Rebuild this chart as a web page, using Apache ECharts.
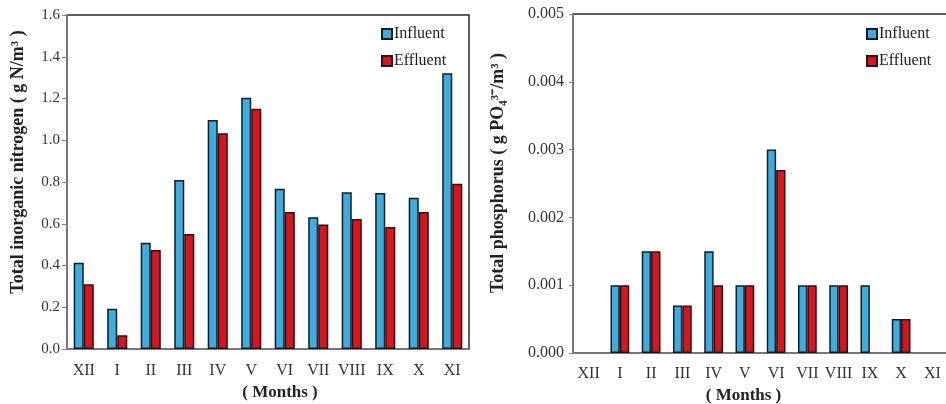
<!DOCTYPE html>
<html>
<head>
<meta charset="utf-8">
<script src="https://cdn.jsdelivr.net/npm/echarts@6/dist/echarts.min.js"></script>
<style>
  html, body { margin: 0; padding: 0; background: #fff; }
  #chart { width: 946px; height: 404px; }
</style>
</head>
<body>
<div id="chart"></div>
<script>
// months on the x axis (same for both panels)
const months = ['XII', 'I', 'II', 'III', 'IV', 'V', 'VI', 'VII', 'VIII', 'IX', 'X', 'XI'];

// left panel: total inorganic nitrogen, g N/m3
const nInfluent = [0.413, 0.193, 0.509, 0.81, 1.097, 1.204, 0.768, 0.631, 0.751, 0.747, 0.725, 1.321];
const nEffluent = [0.31, 0.066, 0.474, 0.551, 1.033, 1.151, 0.656, 0.597, 0.623, 0.584, 0.656, 0.792];

// right panel: total phosphorus, g PO4/m3 (null = no bar)
const pInfluent = [null, 0.001, 0.0015, 0.0007, 0.0015, 0.001, 0.003, 0.001, 0.001, 0.001, 0.0005, null];
const pEffluent = [null, 0.001, 0.0015, 0.0007, 0.001, 0.001, 0.0027, 0.001, 0.001, null, 0.0005, null];

const serif = 'Liberation Serif';
const blue = '#3aade2';
const red = '#e1111b';

const chart = echarts.init(document.getElementById('chart'));

const barStyle = (color) => ({ color: color, borderColor: '#1a1a1a', borderWidth: 1.5 });

const option = {
  animation: false,
  textStyle: { fontFamily: serif },
  grid: [
    { left: 67, right: 477, top: 15, bottom: 55, outerBoundsMode: 'none', show: true, borderColor: '#2a2a2a', borderWidth: 1.5 },
    { left: 573, right: -2, top: 14, bottom: 51, outerBoundsMode: 'none', show: true, borderColor: '#2a2a2a', borderWidth: 1.5 }
  ],
  legend: [
    {
      left: 376, top: 21, orient: 'vertical', itemGap: 11,
      itemWidth: 10, itemHeight: 10, icon: 'rect',
      data: ['Influent', 'Effluent'],
      textStyle: { fontFamily: serif, fontSize: 16, color: '#222', padding: [0, 0, 0, -3] }
    },
    {
      left: 861, top: 21, orient: 'vertical', itemGap: 11,
      itemWidth: 10, itemHeight: 10, icon: 'rect',
      data: ['Influent ', 'Effluent '],
      textStyle: { fontFamily: serif, fontSize: 16, color: '#222', padding: [0, 0, 0, -3] }
    }
  ],
  xAxis: [
    {
      type: 'category', gridIndex: 0, data: months,
      axisLine: { lineStyle: { color: '#808080', width: 1.5 } },
      axisTick: { show: false },
      axisLabel: { fontFamily: serif, fontSize: 16, color: '#333', margin: 14, interval: 0 },
      name: '( Months )', nameLocation: 'middle', nameGap: 35,
      nameTextStyle: { fontFamily: serif, fontSize: 17, fontWeight: 'bold', color: '#222', padding: [0, 0, 0, 24] }
    },
    {
      type: 'category', gridIndex: 1, data: months,
      axisLine: { lineStyle: { color: '#808080', width: 1.5 } },
      axisTick: { show: false },
      axisLabel: { fontFamily: serif, fontSize: 16, color: '#333', margin: 13, interval: 0 },
      name: '( Months )', nameLocation: 'middle', nameGap: 32,
      nameTextStyle: { fontFamily: serif, fontSize: 17, fontWeight: 'bold', color: '#222', padding: [0, 34, 0, 0] }
    }
  ],
  yAxis: [
    {
      type: 'value', gridIndex: 0, min: 0, max: 1.6, interval: 0.2,
      axisLine: { show: true, lineStyle: { color: '#808080', width: 1.5 } },
      axisTick: { show: true, length: 5, lineStyle: { color: '#808080' } },
      splitLine: { show: false },
      axisLabel: { fontFamily: serif, fontSize: 15, color: '#333', margin: 7, formatter: (v) => v.toFixed(1) },
      name: 'Total inorganic nitrogen ( g N/m³ )', nameLocation: 'middle', nameGap: 40,
      nameTextStyle: { fontFamily: serif, fontSize: 18, fontWeight: 'bold', color: '#222', padding: [0, 0, 0, 40] }
    },
    {
      type: 'value', gridIndex: 1, min: 0, max: 0.005, interval: 0.001,
      axisLine: { show: true, lineStyle: { color: '#808080', width: 1.5 } },
      axisTick: { show: true, length: 4, lineStyle: { color: '#808080' } },
      splitLine: { show: false },
      axisLabel: { fontFamily: serif, fontSize: 16, color: '#333', margin: 9, formatter: (v) => v.toFixed(3) },
      name: 'Total phosphorus ( g PO₄³⁻/m³ )', nameLocation: 'middle', nameGap: 66,
      nameTextStyle: { fontFamily: serif, fontSize: 18, fontWeight: 'bold', color: '#222', padding: [0, 0, 0, 21] }
    }
  ],
  series: [
    { name: 'Influent', type: 'bar', xAxisIndex: 0, yAxisIndex: 0, data: nInfluent, barGap: '0%', barCategoryGap: '40%', itemStyle: barStyle(blue) },
    { name: 'Effluent', type: 'bar', xAxisIndex: 0, yAxisIndex: 0, data: nEffluent, barGap: '0%', barCategoryGap: '40%', itemStyle: barStyle(red) },
    { name: 'Influent ', type: 'bar', xAxisIndex: 1, yAxisIndex: 1, data: pInfluent, barGap: '0%', barCategoryGap: '40%', itemStyle: barStyle(blue) },
    { name: 'Effluent ', type: 'bar', xAxisIndex: 1, yAxisIndex: 1, data: pEffluent, barGap: '0%', barCategoryGap: '40%', itemStyle: barStyle(red) }
  ]
};

chart.setOption(option);
</script>
</body>
</html>
